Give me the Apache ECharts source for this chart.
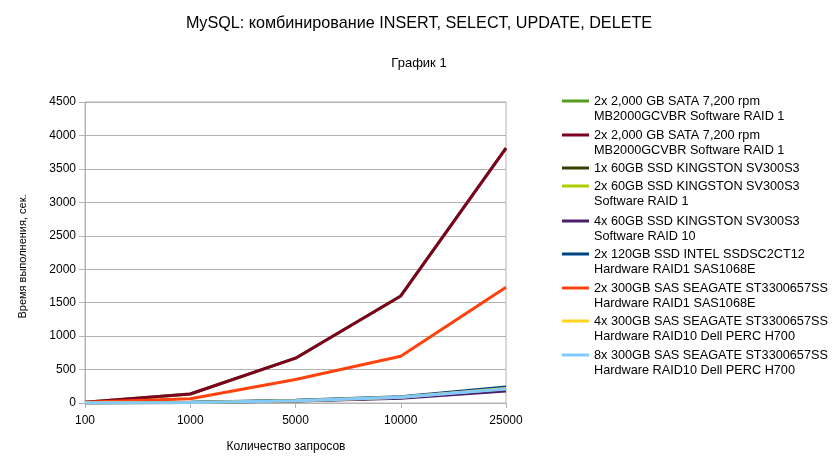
<!DOCTYPE html>
<html>
<head>
<meta charset="utf-8">
<script src="https://cdn.jsdelivr.net/npm/echarts@6/dist/echarts.min.js"></script>
<style>
  html, body { margin: 0; padding: 0; background: #fff; }
  #chart { width: 838px; height: 470px; }
</style>
</head>
<body>
<div id="chart"></div>
<script>
// количество запросов
const categories = ["100", "1000", "5000", "10000", "25000"];

const seriesNames = [
  "2x 2,000 GB SATA 7,200 rpm\nMB2000GCVBR Software RAID 1",
  "2x 2,000 GB SATA 7,200 rpm\nMB2000GCVBR Software RAID 1 ",
  "1x 60GB SSD KINGSTON SV300S3",
  "2x 60GB SSD KINGSTON SV300S3\nSoftware RAID 1",
  "4x 60GB SSD KINGSTON SV300S3\nSoftware RAID 10",
  "2x 120GB SSD INTEL SSDSC2CT12\nHardware RAID1 SAS1068E",
  "2x 300GB SAS SEAGATE ST3300657SS\nHardware RAID1 SAS1068E",
  "4x 300GB SAS SEAGATE ST3300657SS\nHardware RAID10 Dell PERC H700",
  "8x 300GB SAS SEAGATE ST3300657SS\nHardware RAID10 Dell PERC H700",
];

// время выполнения, сек.
const sataGreen   = [12, 135, 670, 1600, 3810];
const sataRed     = [12, 135, 670, 1600, 3810];
const kingston1   = [2, 8, 35, 80, 200];
const kingston2   = [2, 8, 38, 85, 210];
const kingston4   = [1, 6, 30, 70, 180];
const intel2      = [2, 10, 40, 95, 240];
const seagate2    = [10, 65, 350, 700, 1730];
const seagate4    = [2, 8, 35, 85, 215];
const seagate8    = [2, 8, 35, 85, 210];

const seriesData = [sataGreen, sataRed, kingston1, kingston2, kingston4, intel2, seagate2, seagate4, seagate8];
const colors = ["#579d1c", "#7e0021", "#314004", "#aecf00", "#4b1f6f", "#004586", "#ff420e", "#ffd320", "#83caff"];

const yTicks = { min: 0, max: 4500, interval: 500 };

const font = "'Liberation Sans', Arial, sans-serif";
// центр первой строки каждого пункта легенды
const legendRows = [101, 135, 168, 186, 221, 254, 288, 321, 355];

const chart = echarts.init(document.getElementById("chart"));

// по одной легенде на серию, чтобы значок стоял у первой строки
const legends = seriesNames.map((name, i) => {
  const twoLines = name.indexOf("\n") >= 0;
  return {
    data: [name],
    orient: "vertical",
    left: 562,
    top: legendRows[i] - (twoLines ? 22.5 : 7.5),
    padding: 0,
    icon: "rect",
    itemWidth: 27,
    itemHeight: 3,
    itemGap: 0,
    selectedMode: false,
    formatter: (n) => (twoLines ? "\n" + n : n),
    textStyle: {
      fontFamily: font,
      fontSize: 12.7,
      lineHeight: 15,
      color: "#000",
    },
  };
});

chart.setOption({
  animation: false,
  title: [
    {
      text: "MySQL: комбинирование INSERT, SELECT, UPDATE, DELETE",
      left: "center",
      top: 11,
      textStyle: { fontFamily: font, fontSize: 16.2, fontWeight: "normal", color: "#000" },
    },
    {
      text: "График 1",
      left: "center",
      top: 52,
      textStyle: { fontFamily: font, fontSize: 13, fontWeight: "normal", color: "#000" },
    },
  ],
  color: colors,
  legend: legends,
  grid: {
    left: 85,
    right: 332,
    top: 102,
    bottom: 67,
    show: true,
    borderColor: "#b3b3b3",
    borderWidth: 1,
  },
  xAxis: {
    type: "category",
    data: categories,
    boundaryGap: false,
    name: "Количество запросов",
    nameLocation: "middle",
    nameGap: 38,
    nameTextStyle: { fontFamily: font, fontSize: 12, color: "#000", padding: [0, 19, 0, 0] },
    axisLine: { lineStyle: { color: "#b3b3b3" } },
    axisTick: { show: true, length: 5, lineStyle: { color: "#b3b3b3" } },
    axisLabel: { fontFamily: font, fontSize: 12, color: "#000", margin: 12 },
    splitLine: { show: false },
  },
  yAxis: {
    type: "value",
    min: yTicks.min,
    max: yTicks.max,
    interval: yTicks.interval,
    name: "Время выполнения, сек.",
    nameLocation: "middle",
    nameGap: 57,
    nameTextStyle: { fontFamily: font, fontSize: 11, color: "#000", padding: [0, 8, 0, 0] },
    axisLine: { show: true, lineStyle: { color: "#b3b3b3" } },
    axisTick: { show: true, length: 6, lineStyle: { color: "#b3b3b3" } },
    axisLabel: { fontFamily: font, fontSize: 12, color: "#000", margin: 9, formatter: (v) => String(v) },
    splitLine: { lineStyle: { color: "#b3b3b3" } },
  },
  series: seriesNames.map((name, i) => ({
    name: name,
    type: "line",
    data: seriesData[i],
    symbol: "none",
    lineStyle: { width: 3, color: colors[i] },
    itemStyle: { color: colors[i] },
  })),
});
</script>
</body>
</html>
